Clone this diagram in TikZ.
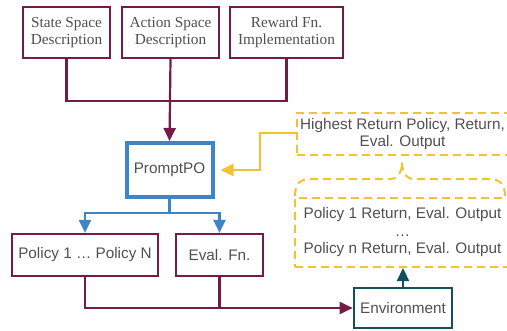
\documentclass[tikz,border=0pt]{standalone}
\usepackage{fontspec}
\setmainfont{Liberation Serif}
\newfontfamily\arialf{Liberation Sans}
\usetikzlibrary{arrows.meta}
\definecolor{maroon}{HTML}{741B47}
\definecolor{pblue}{HTML}{3D85C6}
\definecolor{gold}{HTML}{F1C232}
\definecolor{tealc}{HTML}{134F5C}
\definecolor{txtgray}{HTML}{505050}
\tikzset{
  serifbox/.style={draw=maroon, line width=2.2pt, inner sep=0pt, align=center, text=txtgray,
    font=\fontsize{15.3}{17.5}\selectfont},
  sansbox/.style={draw=maroon, line width=2.2pt, inner sep=0pt, align=center, text=txtgray,
    font=\arialf\fontsize{15.3}{17.5}\selectfont},
  promptbox/.style={draw=pblue, line width=4pt, inner sep=0pt, text=txtgray,
    font=\arialf\fontsize{15.3}{17.5}\selectfont},
  envbox/.style={draw=tealc, line width=2.6pt, inner sep=0pt, text=txtgray,
    font=\arialf\fontsize{15.3}{17.5}\selectfont},
  dashbox/.style={draw=gold, line width=2pt, dash pattern=on 8pt off 5pt, inner sep=0pt},
  txt/.style={inner sep=0pt, align=center, text=txtgray, font=\arialf\fontsize{15.3}{17.5}\selectfont},
  mline/.style={draw=maroon, line width=2.2pt},
  tip/.style={-{Triangle[width=12pt,length=13pt]}},
  marrow/.style={mline, tip},
  barrow/.style={draw=pblue, line width=2.2pt, tip},
  yarrow/.style={draw=gold, line width=2.2pt, tip},
  tarrow/.style={draw=tealc, line width=2.2pt, tip},
}
\begin{document}
\begin{tikzpicture}[x=1pt,y=-1pt]
\useasboundingbox (0,0) rectangle (507,330);
\clip (0,0) rectangle (507,330);
% top boxes
\node[serifbox, minimum width=87pt, minimum height=51pt] (state) at (66.5,32.5) {State Space\\Description};
\node[serifbox, minimum width=97pt, minimum height=51pt] (action) at (170.5,32.5) {Action Space\\Description};
\node[serifbox, minimum width=113pt, minimum height=51pt] (reward) at (286.5,32.5) {Reward Fn.\\Implementation};
% PromptPO
\node[promptbox, minimum width=86pt, minimum height=54pt] (prompt) at (169.5,170) {PromptPO};
% policy and eval
\node[sansbox, minimum width=146pt, minimum height=42pt] (policy) at (85,255) {Policy 1 … Policy N};
\node[sansbox, minimum width=87pt, minimum height=42pt] (eval) at (219.5,255) {Eval. Fn.};
% environment
\node[envbox, minimum width=98pt, minimum height=40pt] (env) at (403,308) {Environment};
% dashed boxes
\node[dashbox, minimum width=223pt, minimum height=42pt] (highbox) at (408.5,134) {};
\node[txt] (hightext) at (402.5,134) {Highest Return Policy, Return,\\Eval. Output};
\node[dashbox, minimum width=225pt, minimum height=69pt] (lowbox) at (407.5,232.5) {};
\node[txt] (lowtext) at (402.5,232.5) {Policy 1 Return, Eval. Output\\…\\Policy n Return, Eval. Output};
% brace
\draw[draw=gold, line width=2pt, dash pattern=on 8pt off 5pt]
  (295,196) .. controls (295,185) and (299,179) .. (310,179) -- (390,179)
  .. controls (398,179) and (402,172) .. (402,162)
  .. controls (402,172) and (406,179) .. (414,179) -- (490,179)
  .. controls (500,179) and (505,185) .. (505,196);
% top connectors
\coordinate (bus) at (170.5,101);
\draw[mline] (state.south) |- (bus);
\draw[mline] (reward.south) |- (bus);
\draw[marrow] (action.south) -- (prompt.north);
% blue connectors
\coordinate (split) at (169.5,213);
\draw[barrow] (prompt.south) -- (split) -| (policy.north);
\draw[barrow] (split) -| (eval.north);
% yellow connector
\coordinate (ybend) at (260,133);
\draw[yarrow, shorten >=6pt] (highbox.west |- ybend) -- (ybend) |- (prompt.east);
% bottom connectors
\coordinate (bbus) at (85,308);
\draw[mline] (eval.south) -- (eval.south |- bbus);
\draw[marrow] (policy.south) |- (env.west);
% env to results
\draw[tarrow] (env.north) -- (env.north |- lowbox.south);
\end{tikzpicture}
\end{document}
